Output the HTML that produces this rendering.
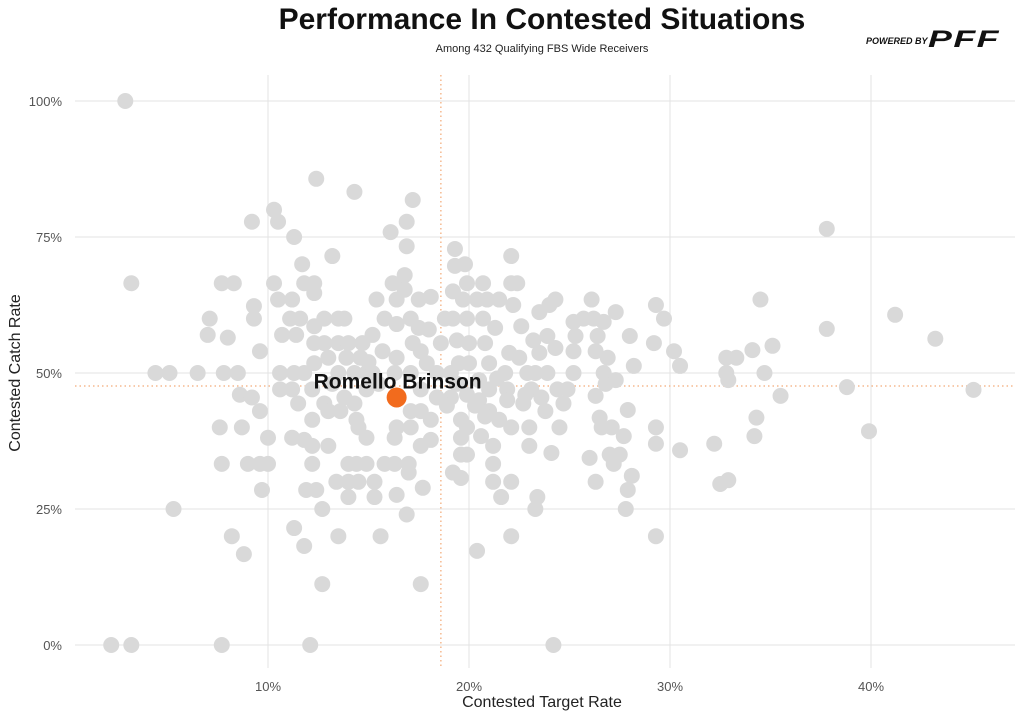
<!DOCTYPE html>
<html><head><meta charset="utf-8"><style>
body{margin:0;background:#fff;width:1024px;height:717px;overflow:hidden;font-family:"Liberation Sans",sans-serif;}
</style></head><body>
<svg id="chart" width="1024" height="717">
<text x="542" y="29" text-anchor="middle" font-size="30" font-weight="bold" fill="#111">Performance In Contested Situations</text>
<text x="542" y="52" text-anchor="middle" font-size="11" fill="#222">Among 432 Qualifying FBS Wide Receivers</text>
<g>
<text x="866" y="44" font-size="9" font-weight="bold" font-style="italic" fill="#111">POWERED BY</text>
<text x="928" y="47" font-size="24" font-weight="bold" font-style="italic" fill="#111" letter-spacing="1" textLength="72" lengthAdjust="spacingAndGlyphs">PFF</text>
</g>
<g id="grid"></g><g id="pts"></g><g id="axes"></g>
<text x="542" y="707" text-anchor="middle" font-size="16" fill="#222">Contested Target Rate</text>
<text transform="translate(20,373) rotate(-90)" text-anchor="middle" font-size="16" fill="#222">Contested Catch Rate</text>
</svg>
<script>
const xTicks=[10,20,30,40];
const yTicks=[0,25,50,75,100];
const avgX=18.6, avgY=47.6;
const highlight=[16.4,45.5];
const highlightName="Romello Brinson";
const xs=[2.9,3.2,2.2,3.2,7.7,12.1,24.2,4.4,5.1,6.5,5.3,7.1,7,7.7,8.3,8,7.8,8.5,7.6,7.7,8.2,8.8,8.6,8.7,9.2,9.3,9.3,9.6,9,9.6,9.7,9.2,9.6,10.3,10.5,10.3,10.5,10,10,11.3,11.2,11.1,11.6,11.4,10.7,10.6,10.6,11.2,11.3,11.5,11.2,11.3,11.7,11.8,11.8,11.8,11.9,11.8,12.4,12.3,12.3,12.3,12.3,12.3,12.2,12.2,12.2,12.2,12.4,12.7,12.7,12.8,12.8,13,12.8,13,13,13.2,13.5,13.5,13.5,13.6,13.4,13.5,13.8,14,13.9,13.8,14,14,14,14.3,14.3,14.3,14.4,14.5,14.4,14.5,14.9,14.9,14.9,14.7,14.6,14.9,15.2,15.2,15.3,15.3,15.4,15.6,15.7,15.8,15.8,16.1,16.2,16.3,16.3,16.3,16.4,16.4,16.4,16.4,16.4,16.6,16.8,16.8,16.9,16.9,17.2,17.1,17.2,17.1,17.1,17.1,17,17,16.9,17.5,17.5,17.6,17.6,17.6,17.6,17.6,17.7,17.9,18,18.1,18.1,18.1,18.4,18.4,18.6,18.8,19.1,19.1,19.2,19.2,19.2,19.3,19.3,19.4,19.5,19.6,19.6,19.6,19.6,19.7,19.8,19.9,19.9,20,20,19.9,19.9,19.9,20.4,20.4,20.5,20.5,20.6,20.7,20.7,20.8,20.9,21,21,21,21.2,21.2,21.2,21.3,21.5,21.5,21.6,21.8,21.9,22,22.1,22.1,22.2,22.1,22.1,22.1,22.4,22.5,22.6,22.7,22.9,23,23,23.1,23.2,23.3,23.3,23.4,23.5,23.5,23.6,23.8,23.9,23.9,24,24.1,24.3,24.3,24.4,24.5,24.7,24.9,25.2,25.2,25.2,25.3,25.7,26,26.1,26.2,26.3,26.3,26.3,26.4,26.5,26.6,26.7,26.7,26.8,26.9,27,27.1,27.2,27.3,27.3,27.5,27.7,27.8,27.9,27.9,28,28.1,28.2,29.2,29.3,29.3,29.3,29.3,29.7,30.2,30.5,30.5,32.2,32.5,32.8,32.8,32.9,32.9,33.3,34.1,34.2,34.3,34.5,34.7,35.1,35.5,37.8,37.8,38.8,39.9,41.2,43.2,45.1,20.3,21.4,20.8,19.4,21.9,15.0,15.5,13.2,18.9,22.8];
const ys=[100,66.5,0,0,0,0,0,50,50,50,25,60,57,66.5,66.5,56.5,50,50,40,33.3,20,16.7,46,40,77.8,62.3,60,54,33.3,33.3,28.5,45.5,43,80,77.8,66.5,63.5,33.3,38.1,75,63.5,60,60,57,57,50,47,47,50,44.4,38.1,21.5,70,66.5,50,37.7,28.5,18.2,85.7,66.5,64.7,58.6,55.5,51.8,47,41.4,36.6,33.3,28.5,25,11.2,60,55.5,52.8,44.4,43,36.6,71.5,60,55.5,50,43,30,20,60,55.5,52.8,45.5,33.3,30,27.2,83.3,50,44.4,41.4,40,33.3,30,50,47,38.1,55.5,52.8,33.3,57,50,30,27.2,63.5,20,54,60,33.3,75.9,66.5,50,38.1,33.3,63.5,59,52.8,40,27.6,66.5,65.3,68,73.3,77.8,81.8,60,55.5,50,43,40,33.3,31.7,24,63.5,58.3,54,47,43,36.6,11.2,28.9,51.8,58,64,41.4,37.7,50,45.5,55.5,60,50,45.5,65,60,31.7,72.8,69.7,56,51.8,41.4,38.1,35,30.7,63.5,70,66.5,60,55.5,51.8,46,40,35,17.3,63.5,48.7,45,38.4,66.5,60,55.5,63.5,51.8,47,43,36.6,33.3,30,58.3,63.5,41.4,27.2,50,47,53.7,71.5,66.5,62.5,40,30,20,66.5,52.8,58.6,44.4,50,40,36.6,47,56,50,25,27.2,61.2,53.7,45.5,43,50,56.8,62.5,35.3,63.5,54.6,47,40,44.4,47,50,54,59.4,56.8,60,34.4,63.5,60,54,45.8,30,56.8,41.8,40,50,59.4,48,52.8,35,40,33.3,61.2,48.7,35,38.4,25,28.5,43.2,56.8,31.1,51.3,55.5,62.5,37,40,20,60,54,51.3,35.8,37,29.6,52.8,50,48.7,30.3,52.8,54.2,38.4,41.8,63.5,50,55,45.8,76.5,58.1,47.4,39.3,60.7,56.3,46.9,44,49,42,48,45,52,48,48,44,46];
const NS="http://www.w3.org/2000/svg";
const xS=v=>67+v*20.1, yS=v=>645-v*5.44;
const L=75,R=1015,T=75,B=668;
const grid=document.getElementById('grid'),pts=document.getElementById('pts'),axes=document.getElementById('axes');
function mk(tag,p,parent){const e=document.createElementNS(NS,tag);for(const k in p)e.setAttribute(k,p[k]);parent.appendChild(e);return e;}
xTicks.forEach(t=>{
 const g=mk('line',{x1:xS(t),x2:xS(t),y1:T,y2:B,stroke:'#e3e3e3','stroke-width':1},grid);
 
 
 const lb=mk('text',{x:xS(t),y:691,'text-anchor':'middle','font-size':13,fill:'#555'},axes);
 lb.textContent=t+'%';
 
 
});
yTicks.forEach(t=>{
 const g=mk('line',{x1:L,x2:R,y1:yS(t),y2:yS(t),stroke:'#e3e3e3','stroke-width':1},grid);
 
 
 const lb=mk('text',{x:62,y:yS(t)+5,'text-anchor':'end','font-size':13,fill:'#555'},axes);
 lb.textContent=t+'%';
 
 
});
const ax=mk('line',{x1:xS(avgX),x2:xS(avgX),y1:T,y2:B,stroke:'#f5b98f','stroke-width':1.5,'stroke-dasharray':'1.5 3'},grid);


const ay=mk('line',{x1:L,x2:R,y1:yS(avgY),y2:yS(avgY),stroke:'#f5b98f','stroke-width':1.5,'stroke-dasharray':'1.5 3'},grid);


xs.forEach((x,i)=>{
 const c=mk('circle',{cx:xS(x),cy:yS(ys[i]),r:8,fill:'#d9d9d9'},pts);
 
 
});
const h=mk('circle',{cx:xS(highlight[0]),cy:yS(highlight[1]),r:10,fill:'#f26b1d'},pts);


const ht=mk('text',{x:xS(highlight[0])+1,y:yS(highlight[1])-9,'text-anchor':'middle','font-size':21,'font-weight':'bold',fill:'#111'},pts);
ht.textContent=highlightName;


</script>
</body></html>
